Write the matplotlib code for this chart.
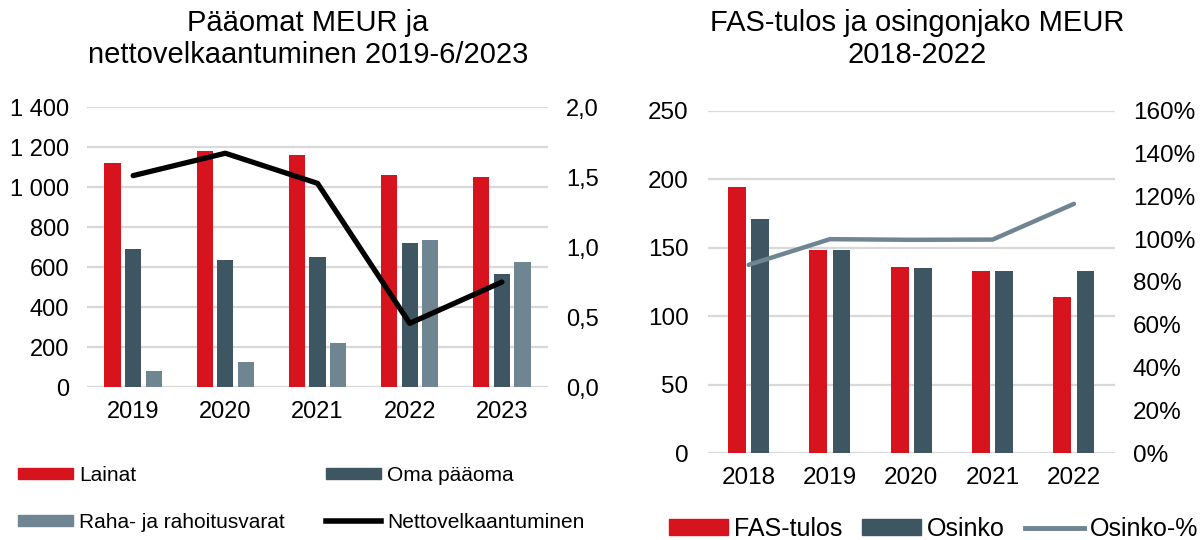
import numpy as np
import matplotlib.pyplot as plt
from matplotlib.patches import Patch
from matplotlib.lines import Line2D
from matplotlib.ticker import FuncFormatter

plt.rcParams['font.family'] = ['Liberation Sans', 'DejaVu Sans']

# data - left chart
years_l = ['2019', '2020', '2021', '2022', '2023']
lainat = [1121, 1180, 1160, 1058, 1048]
oma_paaoma = [688, 635, 650, 722, 565]
raha = [82, 125, 222, 735, 625]
nettovelka = [1.51, 1.67, 1.455, 0.455, 0.75]

# data - right chart
years_r = ['2018', '2019', '2020', '2021', '2022']
fas_tulos = [194, 148, 136, 133, 114]
osinko = [171, 148, 135, 133, 133]
osinko_pct = [88, 100, 99.7, 99.8, 116.5]

red = '#D7141E'
dark = '#3E5661'
light = '#6F8591'
grid_c = '#D9D9D9'

fig = plt.figure(figsize=(12.02, 5.4), dpi=100)

def style(ax):
    for s in ax.spines.values():
        s.set_visible(False)
    ax.tick_params(length=0)

# left chart
ax1 = fig.add_axes([0.0724, 0.2833, 0.3835, 0.5185])
x = np.arange(len(years_l))
w = 0.177
step = 0.223
ax1.bar(x - step, lainat, w, color=red, zorder=2)
ax1.bar(x, oma_paaoma, w, color=dark, zorder=2)
ax1.bar(x + step, raha, w, color=light, zorder=2)
ax1.set_xlim(-0.5, len(x) - 0.5)
ax1.set_ylim(0, 1400)
ax1.set_yticks(np.arange(0, 1401, 200))
ax1.yaxis.set_major_formatter(FuncFormatter(lambda v, p: f'{int(v):,}'.replace(',', ' ')))
ax1.set_xticks(x)
ax1.set_xticklabels(years_l)
ax1.grid(axis='y', color=grid_c, lw=1.6, zorder=0)
ax1.set_axisbelow(True)
style(ax1)
ax1.tick_params(axis='y', labelsize=17, pad=13)
ax1.tick_params(axis='x', labelsize=17, pad=10)

ax1b = ax1.twinx()
ax1b.plot(x, nettovelka, color='black', lw=3.8, solid_capstyle='round', zorder=3)
ax1b.set_ylim(0, 2.0)
ax1b.set_yticks(np.arange(0, 2.01, 0.5))
ax1b.yaxis.set_major_formatter(FuncFormatter(lambda v, p: f'{v:.1f}'.replace('.', ',')))
style(ax1b)
ax1b.tick_params(axis='y', labelsize=17, pad=13)

fig.text(0.256, 1 - 63 / 540, 'Pääomat MEUR ja\nnettovelkaantuminen 2019-6/2023',
         ha='center', va='baseline', fontsize=21, linespacing=1.17)

h1 = [Patch(color=red), Patch(color=light), Patch(color=dark),
      Line2D([], [], color='black', lw=4)]
l1 = ['Lainat', 'Raha- ja rahoitusvarat', 'Oma pääoma', 'Nettovelkaantuminen']
fig.legend(h1, l1, loc='upper left', bbox_to_anchor=(18 / 1202, 1 - 466 / 540),
           ncol=2, frameon=False, fontsize=15, handlelength=2.64, handleheight=0.43,
           handletextpad=0.3, columnspacing=1.97, labelspacing=1.33,
           borderpad=0, borderaxespad=0)

# right chart
ax2 = fig.add_axes([0.589, 0.1606, 0.3383, 0.6344])
x2 = np.arange(len(years_r))
w2 = 0.22
ax2.bar(x2 - 0.142, fas_tulos, w2, color=red, zorder=2)
ax2.bar(x2 + 0.142, osinko, w2, color=dark, zorder=2)
ax2.set_xlim(-0.5, len(x2) - 0.5)
ax2.set_ylim(0, 250)
ax2.set_yticks(np.arange(0, 251, 50))
ax2.set_xticks(x2)
ax2.set_xticklabels(years_r)
ax2.grid(axis='y', color=grid_c, lw=1.6, zorder=0)
ax2.set_axisbelow(True)
style(ax2)
ax2.tick_params(axis='y', labelsize=17.5, pad=14)
ax2.tick_params(axis='x', labelsize=17.5, pad=10)

ax2b = ax2.twinx()
ax2b.plot(x2, osinko_pct, color=light, lw=3.2, solid_capstyle='round', zorder=3)
ax2b.set_ylim(0, 160)
ax2b.set_yticks(np.arange(0, 161, 20))
ax2b.yaxis.set_major_formatter(FuncFormatter(lambda v, p: f'{int(v)}%'))
style(ax2b)
ax2b.tick_params(axis='y', labelsize=17.5, pad=13)

fig.text(0.7627, 1 - 63 / 540, 'FAS-tulos ja osingonjako MEUR\n2018-2022',
         ha='center', va='baseline', fontsize=21, linespacing=1.17)

h2 = [Patch(color=red), Patch(color=dark), Line2D([], [], color=light, lw=3.5)]
l2 = ['FAS-tulos', 'Osinko', 'Osinko-%']
fig.legend(h2, l2, loc='upper left', bbox_to_anchor=(669 / 1202, 1 - 517 / 540),
           ncol=3, frameon=False, fontsize=18, handlelength=2.36, handleheight=0.6,
           handletextpad=0.24, columnspacing=0.8,
           borderpad=0, borderaxespad=0)

fig.savefig('out.png', dpi=100, facecolor='white')
